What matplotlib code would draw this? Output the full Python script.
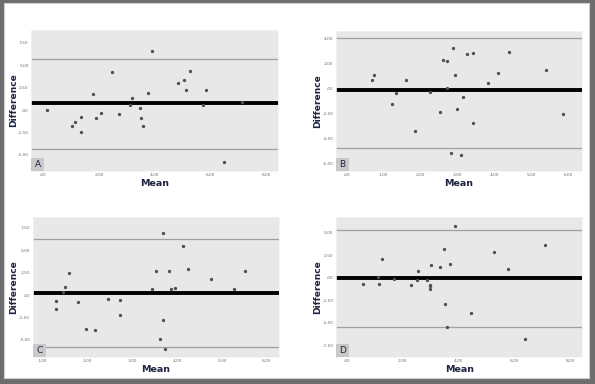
import matplotlib
matplotlib.use("Agg")
import matplotlib.pyplot as plt
from matplotlib.patches import Rectangle

W, H = 595, 384

# ---------------- data ----------------
A_mean = [0.13, 1.05, 1.13, 1.34, 1.36, 1.77, 1.88, 2.08, 2.46, 2.72, 3.10, 3.20, 3.48,
          3.52, 3.59, 3.77, 3.90, 4.85, 5.05, 5.13, 5.26, 5.73, 5.85, 6.50, 7.13]
A_diff = [0.00, -1.79, -1.30, -0.82, -2.49, 1.75, -0.86, -0.30, 4.28, -0.48, 0.52, 1.30, 0.26,
          -0.89, -1.79, 1.93, 6.55, 3.05, 3.38, 2.27, 4.32, 0.60, 2.27, -5.84, 0.93]
A_lines = [0.78, 5.72, -4.39]
A_xticks = [0, 2, 4, 6, 8]
A_xlabels = [",00", "2,00", "4,00", "6,00", "8,00"]
A_yticks = [7.5, 5, 2.5, 0, -2.5, -5]
A_ylabels = ["7,50", "5,00", "2,50", ",00", "-2,50", "-5,00"]

B_mean = [0.69, 0.74, 1.22, 1.35, 1.61, 1.85, 2.27, 2.54, 2.61, 2.72, 2.73, 2.82, 2.89,
          2.94, 3.00, 3.10, 3.15, 3.27, 3.43, 3.43, 3.84, 4.10, 4.40, 5.41, 5.87]
B_diff = [0.66, 1.03, -1.22, -0.37, 0.69, -3.42, -0.26, -1.93, 2.28, 2.17, 0.00, -5.14, 3.18,
          1.06, -1.64, -5.30, -0.72, 2.75, 2.78, -2.78, 0.45, 1.25, 2.86, 1.46, -2.07]
B_lines = [-0.11, 4.02, -4.78]
B_xticks = [0, 1, 2, 3, 4, 5, 6]
B_xlabels = [",00", "1,00", "2,00", "3,00", "4,00", "5,00", "6,00"]
B_yticks = [4, 2, 0, -2, -4, -6]
B_ylabels = ["4,00", "2,00", ",00", "-2,00", "-4,00", "-6,00"]

C_mean = [1.30, 1.30, 1.46, 1.51, 1.60, 1.78, 1.97, 2.16, 2.47, 2.73, 2.73, 3.45, 3.53,
          3.61, 3.69, 3.69, 3.72, 3.83, 3.87, 3.95, 4.13, 4.24, 4.75, 5.28, 5.52]
C_diff = [-0.67, -1.52, 0.37, 0.85, 2.41, -0.74, -3.75, -3.93, -0.41, -0.52, -2.26, 0.67, 2.71,
          -4.94, 6.86, -2.78, -5.97, 2.71, 0.71, 0.78, 5.42, 2.86, 1.82, 0.67, 2.71]
C_lines = [0.22, 6.20, -5.83]
C_xticks = [1, 2, 3, 4, 5, 6]
C_xlabels = ["1,00", "2,00", "3,00", "4,00", "5,00", "6,00"]
C_yticks = [7.5, 5, 2.5, 0, -2.5, -5]
C_ylabels = ["7,50", "5,00", "2,50", ",00", "-2,50", "-5,00"]

D_mean = [0.59, 1.12, 1.17, 1.28, 1.70, 2.30, 2.53, 2.54, 2.87, 2.97, 3.00, 2.97, 3.01,
          3.34, 3.47, 3.51, 3.59, 3.71, 3.87, 4.44, 5.29, 5.77, 6.39, 7.09]
D_diff = [-0.70, 0.11, -0.66, 2.10, -0.15, -0.85, -0.30, 0.77, -0.30, -0.85, -0.96, -1.29, 1.37,
          1.22, 3.17, -2.88, -5.42, 1.55, 5.68, -3.91, 2.80, 1.00, -6.83, 3.58]
D_lines = [-0.05, 5.24, -5.46]
D_xticks = [0, 2, 4, 6, 8]
D_xlabels = [",00", "2,00", "4,00", "6,00", "8,00"]
D_yticks = [5, 2.5, 0, -2.5, -5, -7.5]
D_ylabels = ["5,00", "2,50", ",00", "-2,50", "-5,00", "-7,50"]

# (letter, x, y, lines, xticks, xlabels, yticks, ylabels, xlim, ylim,
#  axes box px, ylabel center x px, xlabel center y px)
panels = [
    ("A", A_mean, A_diff, A_lines, A_xticks, A_xlabels, A_yticks, A_ylabels, (-0.44, 8.43), (-6.77, 8.93),
     (31, 30, 278, 170.7), 14, 183),
    ("B", B_mean, B_diff, B_lines, B_xticks, B_xlabels, B_yticks, B_ylabels, (-0.29, 6.38), (-6.57, 4.59),
     (336, 30.7, 582, 170.7), 317.5, 183),
    ("C", C_mean, C_diff, C_lines, C_xticks, C_xlabels, C_yticks, C_ylabels, (0.78, 6.28), (-6.86, 8.72),
     (32.7, 216.7, 279.3, 356.7), 14, 370),
    ("D", D_mean, D_diff, D_lines, D_xticks, D_xlabels, D_yticks, D_ylabels, (-0.38, 8.44), (-8.75, 6.75),
     (336, 216.7, 582.3, 356.7), 317.5, 369),
]

fig = plt.figure(figsize=(W / 100, H / 100), dpi=100)
fig.patch.set_facecolor("#6d6d6d")
fig.add_artist(Rectangle((4 / W, 6 / H), 585 / W, 375 / H, transform=fig.transFigure,
                         facecolor="white", edgecolor="#d0d0d0", lw=0.8, zorder=0))

def rect(x0, y0, x1, y1):
    return [x0 / W, 1 - y1 / H, (x1 - x0) / W, (y1 - y0) / H]

for lab, xm, yd, lines, xt, xl, yt, yl, xlim, ylim, r, ylx, xly in panels:
    ax = fig.add_axes(rect(*r))
    ax.set_facecolor("#e8e8e8")
    for s in ax.spines.values():
        s.set_color("#f2f2f2")
        s.set_linewidth(0.6)
    ax.set_xlim(*xlim)
    ax.set_ylim(*ylim)
    ax.axhline(lines[1], color="#a0a0a0", lw=0.9, zorder=1)
    ax.axhline(lines[2], color="#a0a0a0", lw=0.9, zorder=1)
    ax.axhline(lines[0], color="black", lw=2.8, zorder=2)
    ax.plot(xm, yd, linestyle="none", marker="o", markersize=2.4,
            color="#505050", markeredgewidth=0, zorder=3)
    ax.set_xticks(xt)
    ax.set_xticklabels(xl)
    ax.set_yticks(yt)
    ax.set_yticklabels(yl)
    ax.tick_params(axis="both", length=0, labelsize=3.1, labelcolor="#707070", pad=1.8)
    x0, y0, x1, y1 = r
    ax.set_xlabel("Mean", fontsize=6.8, color="#1e2340", fontweight="semibold")
    ax.set_ylabel("Difference", fontsize=6.6, color="#1e2340", fontweight="bold")
    ax.yaxis.set_label_coords((ylx - x0) / (x1 - x0), 0.5)
    ax.xaxis.set_label_coords(0.5, -(xly - y1) / (y1 - y0))
    ax.xaxis.label.set_va("center")
    ax.yaxis.label.set_va("center")
    # panel letter box
    bw = 13 / (x1 - x0)
    bh = 13 / (y1 - y0)
    ax.add_patch(Rectangle((0, 0), bw, bh, transform=ax.transAxes,
                           facecolor="#c9c9c9", edgecolor="none", zorder=4))
    ax.text(bw / 2, bh / 2, lab, transform=ax.transAxes, ha="center", va="center",
            fontsize=6.5, color="#1e2340", zorder=5)

fig.savefig("out.png", dpi=100, facecolor=fig.get_facecolor())
